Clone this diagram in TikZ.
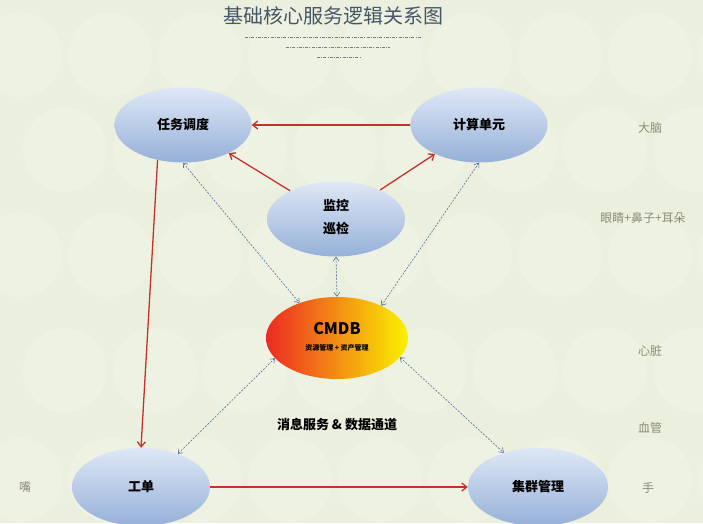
\documentclass[tikz,border=0pt]{standalone}
\usepackage{fontspec}
\setmainfont{Noto Sans CJK SC}
\setsansfont{Noto Sans CJK SC}
\usetikzlibrary{arrows.meta,shapes.geometric}
\definecolor{bgc}{RGB}{235,239,221}
\definecolor{circc}{RGB}{242,245,233}
\definecolor{nodetop}{RGB}{222,232,246}
\definecolor{nodebot}{RGB}{150,176,216}
\definecolor{redline}{RGB}{196,50,46}
\definecolor{blueline}{RGB}{84,112,150}
\definecolor{titlec}{RGB}{70,86,104}
\definecolor{organc}{RGB}{138,142,118}
\definecolor{dashc}{RGB}{120,122,132}
\begin{document}
\begin{tikzpicture}[x=1pt,y=1pt,
  blob/.style={ellipse, inner sep=0pt, minimum width=137pt, minimum height=75pt,
    top color=nodetop, bottom color=nodebot, draw=none,
    font=\bfseries\fontsize{13}{15}\selectfont},
  redarrow/.style={draw=redline, line width=1.3pt, -{Straight Barb[length=5pt,width=8pt]}},
  bluearrow/.style={draw=blueline, line width=0.6pt, dash pattern=on 2pt off 1.4pt,
    {Straight Barb[length=4pt,width=6pt]}-{Straight Barb[length=4pt,width=6pt]}},
  organ/.style={text=organc, font=\fontsize{12}{14}\selectfont},
  titledash/.style={draw=dashc, line width=0.6pt, dash pattern=on 3pt off 1.2pt on 1pt off 1.2pt}
]
\fill[bgc] (0,0) rectangle (703,523);
\useasboundingbox (0,0) rectangle (703,523);
\begin{scope}
\clip (0,0) rectangle (703,523);
\foreach \py/\off in {55/0,150/45,255/0,370/45,480/0}{
  \foreach \k in {0,...,8}{
    \fill[circc, opacity=0.55] ({\off+\k*90+20},{523-\py}) circle (42);
  }
}
\end{scope}

% title
\node (title) at (333,507) {\fontsize{20}{22}\selectfont\color{titlec}基础核心服务逻辑关系图};
\coordinate (d1a) at (245,486); \coordinate (d1b) at (422,486);
\coordinate (d2a) at (286,476); \coordinate (d2b) at (390,476);
\coordinate (d3a) at (317,466); \coordinate (d3b) at (360,466);
\draw[titledash] (d1a) -- (d1b);
\draw[titledash] (d2a) -- (d2b);
\draw[titledash] (d3a) -- (d3b);

% nodes
\node[blob] (rw) at (183,398) {任务调度};
\node[blob] (js) at (479,398) {计算单元};
\node[blob, minimum width=138pt] (jk) at (336,304) {\begin{tabular}{c}监控\\[7pt]巡检\end{tabular}};
\node[ellipse, inner sep=0pt, minimum width=142pt, minimum height=82pt,
  left color={rgb,255:red,236;green,42;blue,36}, middle color={rgb,255:red,250;green,140;blue,22},
  right color={rgb,255:red,250;green,242;blue,0}, draw=none] (cmdb) at (337,185)
  {\begin{tabular}{c}{\bfseries\fontsize{16}{18}\selectfont CMDB}\\[4pt]{\bfseries\fontsize{7}{8}\selectfont 资源管理 + 资产管理}\end{tabular}};
\node[blob, minimum width=138pt, minimum height=78pt] (gd) at (141,36) {工单};
\node[blob, minimum width=140pt, minimum height=78pt] (jq) at (538,36) {集群管理};

% labels
\node[font=\bfseries\fontsize{13}{15}\selectfont] (msg) at (337,98) {消息服务 \& 数据通道};
\node[organ] (o1) at (650,395) {大脑};
\node[organ] (o2) at (643,305) {眼睛+鼻子+耳朵};
\node[organ] (o3) at (650,172) {心脏};
\node[organ] (o4) at (650,95) {血管};
\node[organ] (o5) at (648,35) {手};
\node[organ] (o6) at (25,36) {嘴};

% red arrows
\draw[redarrow] (js) -- (rw);
\draw[redarrow] (jk) -- (rw);
\draw[redarrow] (jk) -- (js);
\draw[redarrow] (rw.234) -- (gd.north);
\draw[redarrow] (gd) -- (jq);

% blue dashed arrows
\draw[bluearrow] (rw.south) -- (cmdb.137);
\draw[bluearrow] (js.south) -- (cmdb.36);
\draw[bluearrow] (jk.south) -- (cmdb.north);
\draw[bluearrow] (cmdb.198) -- (gd.42);
\draw[bluearrow] (cmdb.343) -- (jq.135);
\end{tikzpicture}
\end{document}
